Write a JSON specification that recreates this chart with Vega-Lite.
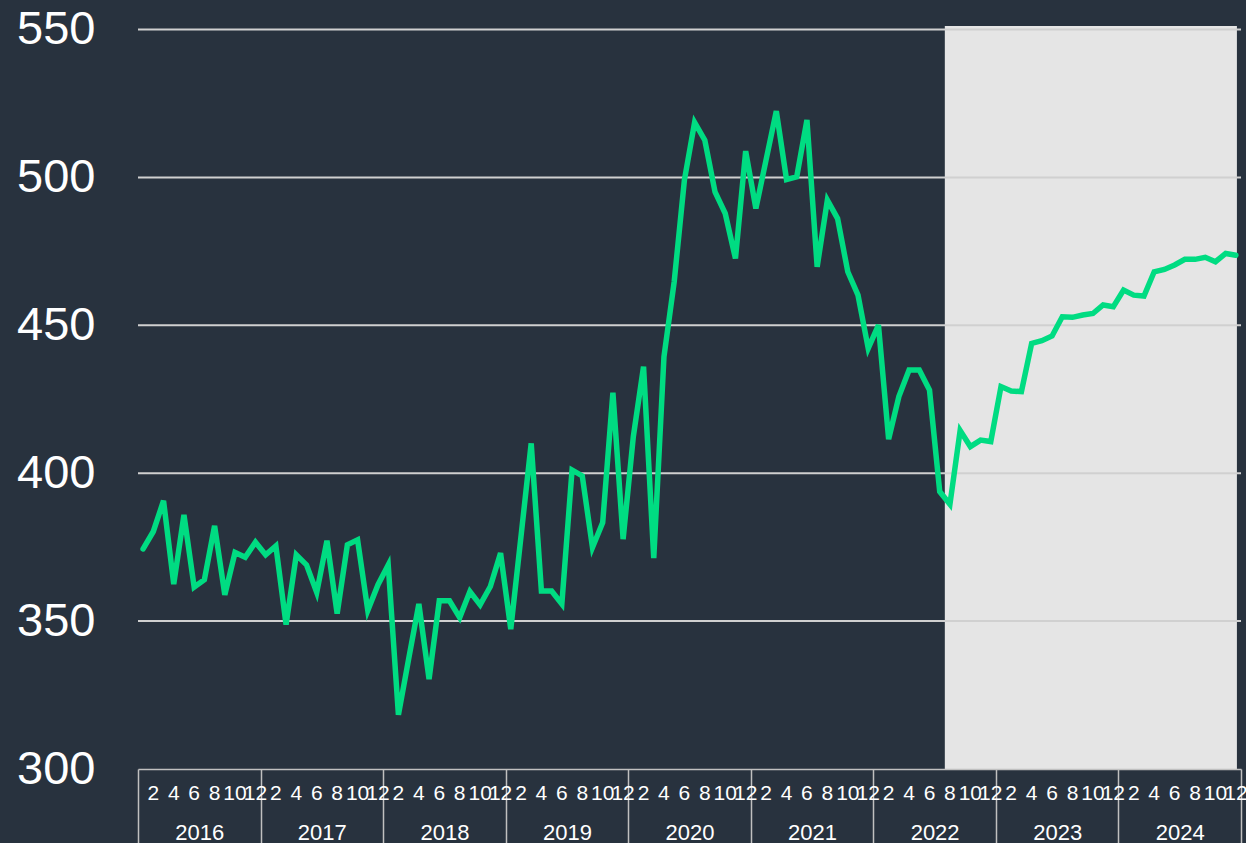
{
  "$schema": "https://vega.github.io/schema/vega-lite/v6.json",
  "width": 1103,
  "height": 743,
  "autosize": "none",
  "padding": {"left": 138, "top": 26, "right": 5, "bottom": 74},
  "background": "#28323e",
  "config": {"view": {"stroke": null}, "font": "Liberation Sans"},
  "datasets": {
    "series": [
      {"ym": "2016-01", "year": "2016", "v": 374.4}, {"ym": "2016-02", "year": "2016", "v": 380.3}, {"ym": "2016-03", "year": "2016", "v": 390.7}, {"ym": "2016-04", "year": "2016", "v": 362.5}, {"ym": "2016-05", "year": "2016", "v": 385.9}, {"ym": "2016-06", "year": "2016", "v": 361.5}, {"ym": "2016-07", "year": "2016", "v": 364.0}, {"ym": "2016-08", "year": "2016", "v": 382.2}, {"ym": "2016-09", "year": "2016", "v": 358.9}, {"ym": "2016-10", "year": "2016", "v": 373.2}, {"ym": "2016-11", "year": "2016", "v": 371.6}, {"ym": "2016-12", "year": "2016", "v": 376.7},
      {"ym": "2017-01", "year": "2017", "v": 372.4}, {"ym": "2017-02", "year": "2017", "v": 375.4}, {"ym": "2017-03", "year": "2017", "v": 348.8}, {"ym": "2017-04", "year": "2017", "v": 372.4}, {"ym": "2017-05", "year": "2017", "v": 369.0}, {"ym": "2017-06", "year": "2017", "v": 359.7}, {"ym": "2017-07", "year": "2017", "v": 377.2}, {"ym": "2017-08", "year": "2017", "v": 352.5}, {"ym": "2017-09", "year": "2017", "v": 375.8}, {"ym": "2017-10", "year": "2017", "v": 377.5}, {"ym": "2017-11", "year": "2017", "v": 353.6}, {"ym": "2017-12", "year": "2017", "v": 362.3},
      {"ym": "2018-01", "year": "2018", "v": 369.0}, {"ym": "2018-02", "year": "2018", "v": 318.3}, {"ym": "2018-03", "year": "2018", "v": 337.2}, {"ym": "2018-04", "year": "2018", "v": 355.8}, {"ym": "2018-05", "year": "2018", "v": 330.4}, {"ym": "2018-06", "year": "2018", "v": 356.9}, {"ym": "2018-07", "year": "2018", "v": 356.9}, {"ym": "2018-08", "year": "2018", "v": 351.2}, {"ym": "2018-09", "year": "2018", "v": 360.0}, {"ym": "2018-10", "year": "2018", "v": 355.5}, {"ym": "2018-11", "year": "2018", "v": 361.7}, {"ym": "2018-12", "year": "2018", "v": 373.0},
      {"ym": "2019-01", "year": "2019", "v": 347.3}, {"ym": "2019-02", "year": "2019", "v": 378.6}, {"ym": "2019-03", "year": "2019", "v": 410.1}, {"ym": "2019-04", "year": "2019", "v": 360.2}, {"ym": "2019-05", "year": "2019", "v": 360.2}, {"ym": "2019-06", "year": "2019", "v": 355.8}, {"ym": "2019-07", "year": "2019", "v": 401.1}, {"ym": "2019-08", "year": "2019", "v": 399.1}, {"ym": "2019-09", "year": "2019", "v": 374.9}, {"ym": "2019-10", "year": "2019", "v": 383.3}, {"ym": "2019-11", "year": "2019", "v": 427.2}, {"ym": "2019-12", "year": "2019", "v": 377.7},
      {"ym": "2020-01", "year": "2020", "v": 412.4}, {"ym": "2020-02", "year": "2020", "v": 436.0}, {"ym": "2020-03", "year": "2020", "v": 371.3}, {"ym": "2020-04", "year": "2020", "v": 439.4}, {"ym": "2020-05", "year": "2020", "v": 464.7}, {"ym": "2020-06", "year": "2020", "v": 499.1}, {"ym": "2020-07", "year": "2020", "v": 518.6}, {"ym": "2020-08", "year": "2020", "v": 512.6}, {"ym": "2020-09", "year": "2020", "v": 495.1}, {"ym": "2020-10", "year": "2020", "v": 487.8}, {"ym": "2020-11", "year": "2020", "v": 472.6}, {"ym": "2020-12", "year": "2020", "v": 508.9},
      {"ym": "2021-01", "year": "2021", "v": 489.5}, {"ym": "2021-02", "year": "2021", "v": 506.0}, {"ym": "2021-03", "year": "2021", "v": 522.4}, {"ym": "2021-04", "year": "2021", "v": 499.3}, {"ym": "2021-05", "year": "2021", "v": 500.2}, {"ym": "2021-06", "year": "2021", "v": 519.4}, {"ym": "2021-07", "year": "2021", "v": 469.8}, {"ym": "2021-08", "year": "2021", "v": 492.3}, {"ym": "2021-09", "year": "2021", "v": 486.1}, {"ym": "2021-10", "year": "2021", "v": 468.1}, {"ym": "2021-11", "year": "2021", "v": 460.2}, {"ym": "2021-12", "year": "2021", "v": 442.2},
      {"ym": "2022-01", "year": "2022", "v": 450.1}, {"ym": "2022-02", "year": "2022", "v": 411.5}, {"ym": "2022-03", "year": "2022", "v": 425.9}, {"ym": "2022-04", "year": "2022", "v": 434.9}, {"ym": "2022-05", "year": "2022", "v": 434.9}, {"ym": "2022-06", "year": "2022", "v": 428.1}, {"ym": "2022-07", "year": "2022", "v": 393.8}, {"ym": "2022-08", "year": "2022", "v": 389.5}, {"ym": "2022-09", "year": "2022", "v": 414.4}, {"ym": "2022-10", "year": "2022", "v": 409.0}, {"ym": "2022-11", "year": "2022", "v": 411.2}, {"ym": "2022-12", "year": "2022", "v": 410.7},
      {"ym": "2023-01", "year": "2023", "v": 429.3}, {"ym": "2023-02", "year": "2023", "v": 427.8}, {"ym": "2023-03", "year": "2023", "v": 427.6}, {"ym": "2023-04", "year": "2023", "v": 443.9}, {"ym": "2023-05", "year": "2023", "v": 444.8}, {"ym": "2023-06", "year": "2023", "v": 446.4}, {"ym": "2023-07", "year": "2023", "v": 452.9}, {"ym": "2023-08", "year": "2023", "v": 452.7}, {"ym": "2023-09", "year": "2023", "v": 453.5}, {"ym": "2023-10", "year": "2023", "v": 454.0}, {"ym": "2023-11", "year": "2023", "v": 456.9}, {"ym": "2023-12", "year": "2023", "v": 456.3},
      {"ym": "2024-01", "year": "2024", "v": 461.9}, {"ym": "2024-02", "year": "2024", "v": 460.2}, {"ym": "2024-03", "year": "2024", "v": 459.9}, {"ym": "2024-04", "year": "2024", "v": 468.1}, {"ym": "2024-05", "year": "2024", "v": 468.9}, {"ym": "2024-06", "year": "2024", "v": 470.4}, {"ym": "2024-07", "year": "2024", "v": 472.3}, {"ym": "2024-08", "year": "2024", "v": 472.3}, {"ym": "2024-09", "year": "2024", "v": 473.0}, {"ym": "2024-10", "year": "2024", "v": 471.5}, {"ym": "2024-11", "year": "2024", "v": 474.3}, {"ym": "2024-12", "year": "2024", "v": 473.7}
    ],
    "forecast": [{"start": "2022-08", "end": "2024-12"}],
    "grid": [{"level": 350}, {"level": 400}, {"level": 450}, {"level": 500}, {"level": 550}]
  },
  "layer": [
    {
      "layer": [
        {
          "data": {"name": "forecast"},
          "mark": {"type": "rect", "color": "#e5e5e5"},
          "encoding": {
            "x": {"field": "start", "type": "ordinal", "bandPosition": 0},
            "x2": {"field": "end", "bandPosition": 0.6}
          }
        },
        {
          "data": {"name": "grid"},
          "mark": {"type": "rule", "color": "#d0d0d0", "strokeWidth": 2},
          "encoding": {
            "y": {"field": "level", "type": "quantitative"}
          }
        },
        {
          "data": {"name": "series"},
          "mark": {"type": "line", "color": "#00dc82", "strokeWidth": 5.5, "strokeCap": "round"},
          "encoding": {
            "x": {
              "field": "ym",
              "type": "ordinal",
              "scale": {"type": "band", "paddingInner": 0, "paddingOuter": 0},
              "axis": {
                "orient": "bottom",
                "title": null,
                "ticks": false,
                "grid": false,
                "domain": true,
                "domainColor": "#c0c0c0",
                "domainWidth": 1.5,
                "labelExpr": "toNumber(slice(datum.value, 5)) % 2 == 0 ? toString(toNumber(slice(datum.value, 5))) : ''",
                "labelFontSize": 21,
                "labelFont": "Liberation Sans",
                "labelColor": "#ffffff",
                "labelPadding": 24,
                "labelAngle": 0,
                "labelAlign": "center",
                "labelOverlap": false
              }
            },
            "y": {
              "field": "v",
              "type": "quantitative",
              "scale": {"domain": [300, 551.2], "nice": false, "zero": false},
              "axis": {
                "title": null,
                "values": [300, 350, 400, 450, 500, 550],
                "grid": false,
                "domain": false,
                "ticks": false,
                "labelFontSize": 47,
                "labelFont": "Liberation Sans",
                "labelColor": "#ffffff",
                "labelPadding": 43
              }
            }
          }
        }
      ]
    },
    {
      "data": {"name": "series"},
      "mark": {"type": "rule", "opacity": 0},
      "encoding": {
        "x": {
          "field": "year",
          "type": "ordinal",
          "scale": {"type": "band", "paddingInner": 0, "paddingOuter": 0},
          "axis": {
            "orient": "bottom",
            "title": null,
            "domain": false,
            "grid": false,
            "ticks": true,
            "tickBand": "extent",
            "tickSize": 75,
            "tickColor": "#c0c0c0",
            "tickWidth": 1.5,
            "labelFontSize": 22,
            "labelFont": "Liberation Sans",
            "labelColor": "#ffffff",
            "labelPadding": -22,
            "labelAngle": 0
          }
        }
      }
    }
  ],
  "resolve": {"scale": {"x": "independent"}, "axis": {"x": "independent"}}
}
